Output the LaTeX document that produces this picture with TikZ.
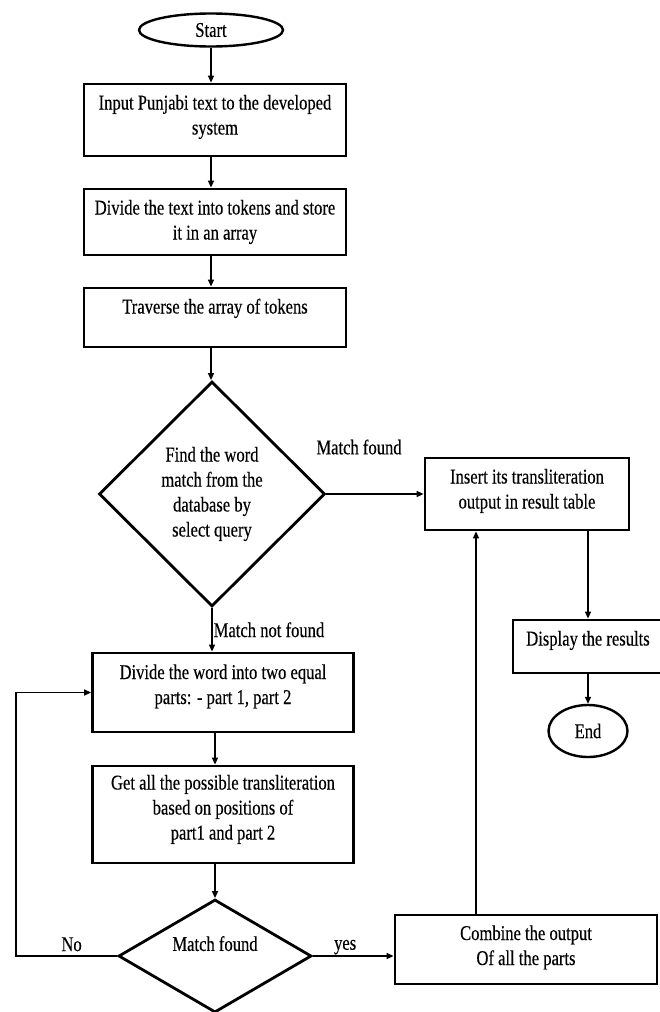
\documentclass[tikz,border=0pt]{standalone}
\usepackage{fontspec}
\setmainfont{Liberation Serif}[FakeStretch=0.79, FakeBold=0.3]
\usetikzlibrary{shapes.geometric,arrows.meta}

% text lines lifted inside their box, the box keeps its size
\newcommand{\liftlines}[2]{\raisebox{#1}[\height][\depth]{\begin{tabular}{@{}c@{}}#2\end{tabular}}}

\tikzset{
  procbox/.style={draw, line width=2.8pt, align=center, inner sep=2pt},
  termnode/.style={draw, ellipse, line width=2.4pt, inner sep=0pt},
  decision/.style={draw, diamond, line width=2.8pt, align=center, inner sep=0pt},
  flow/.style={line width=1.4pt, -{Triangle[length=7pt,width=6pt]}},
  lbl/.style={inner sep=1pt}
}

\begin{document}
\begin{tikzpicture}[x=1pt, y=-1pt, font=\fontsize{21}{25}\selectfont]
\useasboundingbox (0,0) rectangle (660,1012);

% Main column
\node[termnode, minimum width=144pt, minimum height=33pt] (start) at (211,30) {Start};
\node[procbox, minimum width=262pt, minimum height=72pt] (input) at (215,120)
  {\liftlines{3pt}{Input Punjabi text to the developed\\system}};
\node[procbox, minimum width=262pt, minimum height=66pt] (tokens) at (215,222)
  {\liftlines{0pt}{Divide the text into tokens and store\\it in an array}};
\node[procbox, minimum width=262pt, minimum height=59pt] (traverse) at (215,317.5)
  {\liftlines{9pt}{Traverse the array of tokens}};
\node[decision, minimum width=226pt, minimum height=225pt] (findword) at (212,494)
  {Find the word\\match from the\\database by\\select query};

% Right column
\node[procbox, minimum width=204pt, minimum height=72pt] (insert) at (527,494)
  {\liftlines{3pt}{Insert its transliteration\\output in result table}};
\node[procbox, minimum width=150pt, minimum height=53pt] (display) at (588,646.5)
  {\liftlines{6pt}{Display the results}};
\node[termnode, minimum width=79pt, minimum height=52pt] (end) at (588,731) {End};

% Splitting branch
\node[procbox, minimum width=261pt, minimum height=79pt] (split) at (223,692.5)
  {\liftlines{6pt}{Divide the word into two equal\\parts: - part 1, part 2}};
\node[procbox, minimum width=261pt, minimum height=97pt] (possible) at (223,814.5)
  {\liftlines{5pt}{Get all the possible transliteration\\based on positions of\\part1 and part 2}};
\node[decision, aspect=1.7, minimum width=193pt, minimum height=113pt] (partmatch) at (215,956)
  {Match found\\~};
\node[procbox, minimum width=262pt, minimum height=69pt] (combine) at (526,949.5)
  {\liftlines{2pt}{Combine the output\\Of all the parts}};

% Helper coordinates for the routed lines
\coordinate (loopx) at (16,0);
\coordinate (upx) at (476,0);

% Connectors
\draw[flow] (start.south) -- (start.south |- input.north);
\draw[flow] (start.south |- input.south) -- (start.south |- tokens.north);
\draw[flow] (start.south |- tokens.south) -- (start.south |- traverse.north);
\draw[flow] (start.south |- traverse.south) -- (start.south |- findword.north);
\draw[flow] (findword.east) -- (findword.east -| insert.west);
\node[lbl] (foundlbl) at (359,447) {Match found};
\draw[flow] (findword.south) -- node[right, lbl] {Match not found} (findword.south |- split.north);
\draw[flow] (insert.south -| display.north) -- (display.north);
\draw[flow] (display.south) -- (end.north);
\draw[flow] (partmatch.north |- split.south) -- (partmatch.north |- possible.north);
\draw[flow] (partmatch.north |- possible.south) -- (partmatch.north);
\draw[flow] (partmatch.east) -- node[above, lbl, pos=0.4] {yes} (partmatch.east -| combine.west);
\draw[flow] (partmatch.west) -- node[above, lbl, pos=0.45, yshift=3pt] {No} (partmatch.west -| loopx) |- (split.west);
\draw[flow] (combine.north -| upx) -- (insert.south -| upx);

\end{tikzpicture}
\end{document}
